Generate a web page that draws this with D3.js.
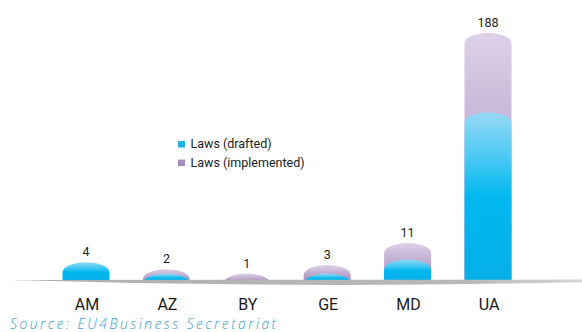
<!DOCTYPE html>
<html><head><meta charset="utf-8">
<script src="https://cdn.jsdelivr.net/npm/d3@7"></script>
<style>
html,body{margin:0;padding:0;background:#fff;}
svg{display:block;}
</style></head>
<body>
<svg id="chart" width="582" height="332"></svg>
<script>
const categories = ["AM", "AZ", "BY", "GE", "MD", "UA"];
const drafted = [4, 1, 0, 1, 5, 121];
const implemented = [0, 1, 1, 2, 6, 67];
const seriesNames = ["Laws (drafted)", "Laws (implemented)"];
const sourceText = "Source: EU4Business Secretariat";

const W = 582, H = 332, baseY = 280, barW = 47, capRy = 10;
const svg = d3.select("#chart");
const defs = svg.append("defs");

const rows = categories.map((c, i) => ({cat: c, drafted: drafted[i], implemented: implemented[i]}));
const stack = d3.stack().keys(["drafted", "implemented"]);
const series = stack(rows);

const x = d3.scalePoint().domain(categories).range([86, 488]);
// designer's non-linear vertical scale (piecewise)
const y = d3.scaleLinear().domain([0, 1, 3, 11, 188]).range([baseY, 273.5, 265, 243, 33]);

function grad(id, stops) {
  const g = defs.append("linearGradient").attr("id", id).attr("x1", 0).attr("y1", 0).attr("x2", 0).attr("y2", 1);
  stops.forEach(s => g.append("stop").attr("offset", s[0]).attr("stop-color", s[1]));
}
grad("gBlue", [[0, "#98d9f6"], [0.3, "#3fc6f3"], [0.5, "#00b8ef"], [1, "#06afe8"]]);
grad("gPurple", [[0, "#ddd1e8"], [0.6, "#b8a3cb"], [1, "#a78cbd"]]);
const gb = defs.append("linearGradient").attr("id", "gBase").attr("x1", 0).attr("y1", 0).attr("x2", 1).attr("y2", 0);
gb.append("stop").attr("offset", 0).attr("stop-color", "#b0b0b0");
gb.append("stop").attr("offset", 0.8).attr("stop-color", "#b8b8b8");
gb.append("stop").attr("offset", 1).attr("stop-color", "#d6d6d6");

defs.append("clipPath").attr("id", "clipBase").append("rect")
  .attr("x", 0).attr("y", 0).attr("width", W).attr("height", baseY + 0.5);

const fills = {drafted: "url(#gBlue)", implemented: "url(#gPurple)"};

function capsule(cx, yt) {
  const x0 = cx - barW / 2, x1 = cx + barW / 2, yc = yt + capRy;
  const yb = Math.max(yc, baseY + 2);
  return `M${x0},${yc} A${barW/2},${capRy} 0 0 1 ${x1},${yc} L${x1},${yb} L${x0},${yb} Z`;
}

const barsG = svg.append("g").attr("clip-path", "url(#clipBase)");
// draw top series first so lower series overlays
series.slice().reverse().forEach(s => {
  barsG.append("g").selectAll("path")
    .data(s.filter(d => d[1] - d[0] > 0))
    .join("path")
    .attr("d", d => capsule(x(d.data.cat), y(d[1])))
    .attr("fill", fills[s.key]);
});

// base band
svg.append("path")
  .attr("d", `M9,280 L582,279.6 L582,282.2 Q300,288.5 9,280 Z`)
  .attr("fill", "url(#gBase)");

// value labels
svg.append("g").selectAll("text")
  .data(rows)
  .join("text")
  .attr("x", d => x(d.cat))
  .attr("y", d => y(d.drafted + d.implemented) - 6)
  .attr("text-anchor", "middle")
  .attr("font-family", "Roboto, sans-serif")
  .attr("font-size", 12.5)
  .attr("fill", "#222")
  .text(d => d.drafted + d.implemented);

// category labels
svg.append("g").selectAll("text")
  .data(categories)
  .join("text")
  .attr("x", d => x(d) + 1)
  .attr("y", 310)
  .attr("text-anchor", "middle")
  .attr("font-family", "Roboto, sans-serif")
  .attr("font-size", 16)
  .attr("fill", "#1a1a1a")
  .text(d => d);

// legend
const legColors = ["#1eb1e7", "#a58bbd"];
const leg = svg.append("g").selectAll("g").data(seriesNames).join("g")
  .attr("transform", (d, i) => `translate(178,${141 + i * 18.6})`);
leg.append("rect").attr("width", 7).attr("height", 6.5).attr("fill", (d, i) => legColors[i]);
leg.append("text").attr("x", 12.5).attr("y", 7).attr("font-family", "Roboto, sans-serif")
  .attr("font-size", 12.5).attr("fill", "#222").text(d => d);

// source
svg.append("text")
  .attr("x", 10).attr("y", 329)
  .attr("font-family", "'Open Sans', sans-serif")
  .attr("font-style", "italic")
  .attr("font-weight", 300)
  .attr("font-size", 14)
  .attr("letter-spacing", 2.4)
  .attr("fill", "#3d9ad6")
  .text(sourceText);
</script>
</body></html>
